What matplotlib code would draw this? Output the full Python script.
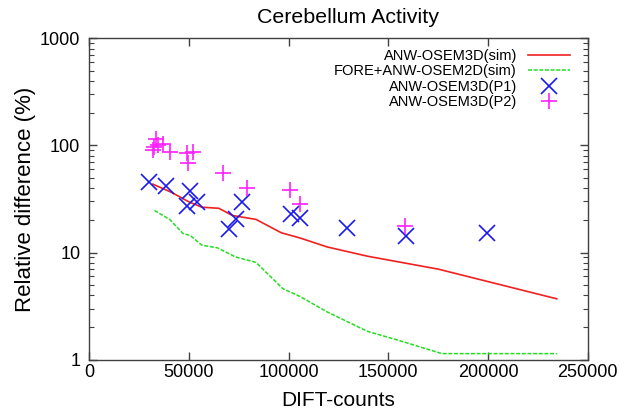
import matplotlib
matplotlib.use('Agg')
import matplotlib.pyplot as plt
from matplotlib.ticker import LogLocator, FuncFormatter, MultipleLocator, NullLocator

plt.rcParams['font.family'] = ['Liberation Sans', 'DejaVu Sans']

# simulated curves
sim3d_x = [31900, 41200, 49700, 56500, 65000, 71700, 83600, 96300, 105600,
           119200, 139500, 175100, 234500]
sim3d_y = [43.5, 36.5, 29.9, 26.5, 25.9, 22.2, 20.4, 15.3, 13.7,
           11.3, 9.25, 7.0, 3.7]

sim2d_x = [32700, 40300, 47100, 50500, 56500, 64100, 73400, 83600, 97100,
           105600, 119200, 139500, 156500, 176800, 234500]
sim2d_y = [24.7, 20.4, 15.0, 14.5, 11.7, 11.1, 9.1, 8.1, 4.6,
           3.9, 2.8, 1.84, 1.49, 1.14, 1.14]

# patient data
p1_x = [29800, 38700, 50500, 49200, 53900, 76800, 73800, 70100,
        101100, 105600, 129300, 159000, 199700]
p1_y = [45.7, 41.4, 37.2, 27.1, 29.5, 29.9, 20.6, 16.7,
        23.0, 21.0, 16.9, 14.3, 15.3]

p2_x = [33600, 34400, 31900, 32700, 37000, 40700, 48800, 52200, 49700,
        67100, 79000, 100500, 105600, 158200]
p2_y = [115, 102, 90.6, 97, 104, 86.7, 85.5, 86.7, 68.1,
        55.1, 39.7, 38.6, 28.4, 17.7]

labels = ['ANW-OSEM3D(sim)', 'FORE+ANW-OSEM2D(sim)', 'ANW-OSEM3D(P1)', 'ANW-OSEM3D(P2)']

fig = plt.figure(figsize=(6.32, 4.17), dpi=100)
ax = fig.add_axes([89.3 / 632, 1 - 359.7 / 417, 498.4 / 632, 321.4 / 417])

ax.plot(sim3d_x, sim3d_y, color='#f02020', lw=1.2, label=labels[0])
ax.plot(sim2d_x, sim2d_y, color='#22dd22', lw=1.1, dashes=(2.6, 1.1), label=labels[1])
ax.plot(p1_x, p1_y, 'x', color='#1a1aee', ms=11, mew=1.2, label=labels[2])
ax.plot(p2_x, p2_y, '+', color='#ff20ff', ms=11, mew=1.2, label=labels[3])

ax.set_yscale('log')
ax.set_xlim(0, 250000)
ax.set_ylim(1, 1000)

ax.xaxis.set_major_locator(MultipleLocator(50000))
ax.xaxis.set_minor_locator(NullLocator())
ax.yaxis.set_major_locator(LogLocator(base=10))
ax.yaxis.set_minor_locator(LogLocator(base=10, subs=range(2, 10)))
ax.yaxis.set_major_formatter(FuncFormatter(lambda v, p: '%g' % v))

ax.tick_params(which='both', direction='in', top=True, right=True,
               color='#404040', labelsize=13)
ax.tick_params(which='major', length=6, width=1)
ax.tick_params(which='minor', length=3.5, width=0.8)
ax.tick_params(axis='x', pad=3)
ax.tick_params(axis='y', pad=6.5)

for s in ax.spines.values():
    s.set_color('#404040')
    s.set_linewidth(1.0)

ax.set_xlabel('DIFT-counts', fontsize=15, labelpad=7)
ax.set_ylabel('Relative difference (%)', fontsize=16, labelpad=3)
fig.text(348 / 632, 1 - 23 / 417, 'Cerebellum Activity', fontsize=15.4,
         ha='center', va='baseline')

ax.legend(loc='upper right', bbox_to_anchor=(0.9645, 0.967), frameon=False,
          markerfirst=False, fontsize=10.5, handlelength=2.86, handletextpad=0.78,
          labelspacing=0.1, borderpad=0, borderaxespad=0)

fig.savefig('out.png', dpi=100)
